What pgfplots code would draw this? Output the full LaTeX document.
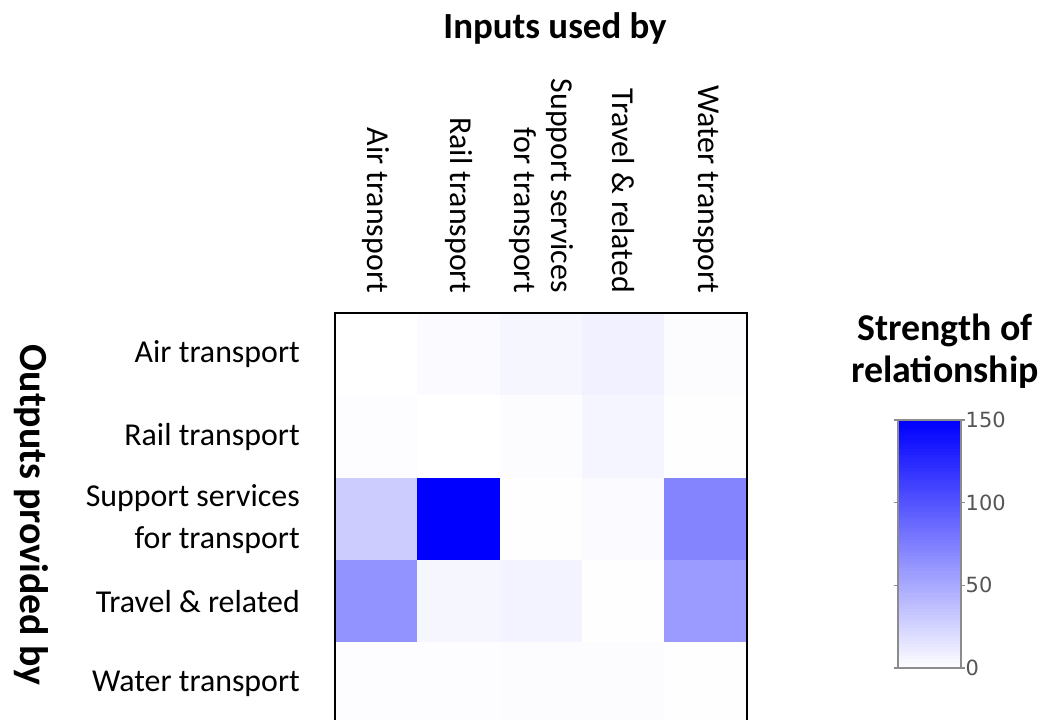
\documentclass[border=0pt]{standalone}
\usepackage{pgfplots}
\pgfplotsset{compat=1.18}
\usepackage{fontspec}
\setmainfont{Carlito}
\newfontfamily\numfont{DejaVu Sans}
\definecolor{cbtext}{RGB}{85,85,85}
\definecolor{cbframe}{RGB}{140,140,140}
\begin{document}
\begin{tikzpicture}
\useasboundingbox (0,0) rectangle (1045bp,720bp);
\begin{axis}[
  at={(335bp,-5bp)}, anchor=south west,
  scale only axis, width=412bp, height=412bp,
  xmin=-0.5, xmax=4.5, ymin=-0.5, ymax=4.5,
  y dir=reverse,
  axis on top,
  xtick={0,1,2,3,4}, ytick={0,1,2,3,4},
  xticklabels={Air transport, Rail transport, {Support services\\for transport}, Travel \& related, Water transport},
  yticklabels={Air transport, Rail transport, {Support services\\for transport}, Travel \& related, Water transport},
  xticklabel pos=upper,
  major tick length=0pt,
  xticklabel shift=20bp,
  yticklabel shift=35bp,
  xticklabel style={rotate=-90, anchor=east, align=right, inner sep=0pt,
    font=\fontsize{32}{37}\selectfont},
  yticklabel style={anchor=east, align=right, inner sep=0pt,
    font=\fontsize{32}{42}\selectfont},
  axis line style={black, line width=2.5bp},
  colormap={wb}{rgb255=(255,255,255) rgb255=(0,0,255)},
  point meta min=0, point meta max=150,
  colorbar sampled,
  colorbar style={
    at={(parent axis.south west)}, anchor=south west,
    xshift=554bp, yshift=57bp,
    scale only axis, width=63bp, height=248bp,
    xmin=0, xmax=1,
    y dir=normal,
    samples=80,
    ytick={0,50,100,150},
    axis line style={cbframe, line width=2bp},
    major tick length=4bp,
    tick align=outside,
    tick style={cbframe, line width=1.2bp},
    yticklabel shift=0bp,
    yticklabel style={font=\numfont\fontsize{21}{24}\selectfont, text=cbtext, inner sep=1bp, anchor=west},
    /pgf/number format/assume math mode=true,
  },
]
\addplot[matrix plot*, point meta=explicit, mesh/cols=5] table[meta=c] {
x y c
0 0 0
1 0 3
2 0 5
3 0 8
4 0 2
0 1 1
1 1 0
2 1 1.5
3 1 6
4 1 0.5
0 2 30
1 2 150
2 2 0.3
3 2 3
4 2 72
0 3 63
1 3 5
2 3 7
3 3 0.3
4 3 59
0 4 1
1 4 1
2 4 2
3 4 2
4 4 0.5
};
\end{axis}
\node[font=\bfseries\fontsize{37}{42}\selectfont] at (555bp,692bp) {Inputs used by};
\node[font=\bfseries\fontsize{38}{42}\selectfont, align=center] at (945bp,369bp) {Strength of\\relationship};
\node[font=\bfseries\fontsize{40}{42}\selectfont, rotate=-90] at (31bp,205bp) {Outputs provided by};
\end{tikzpicture}
\end{document}
